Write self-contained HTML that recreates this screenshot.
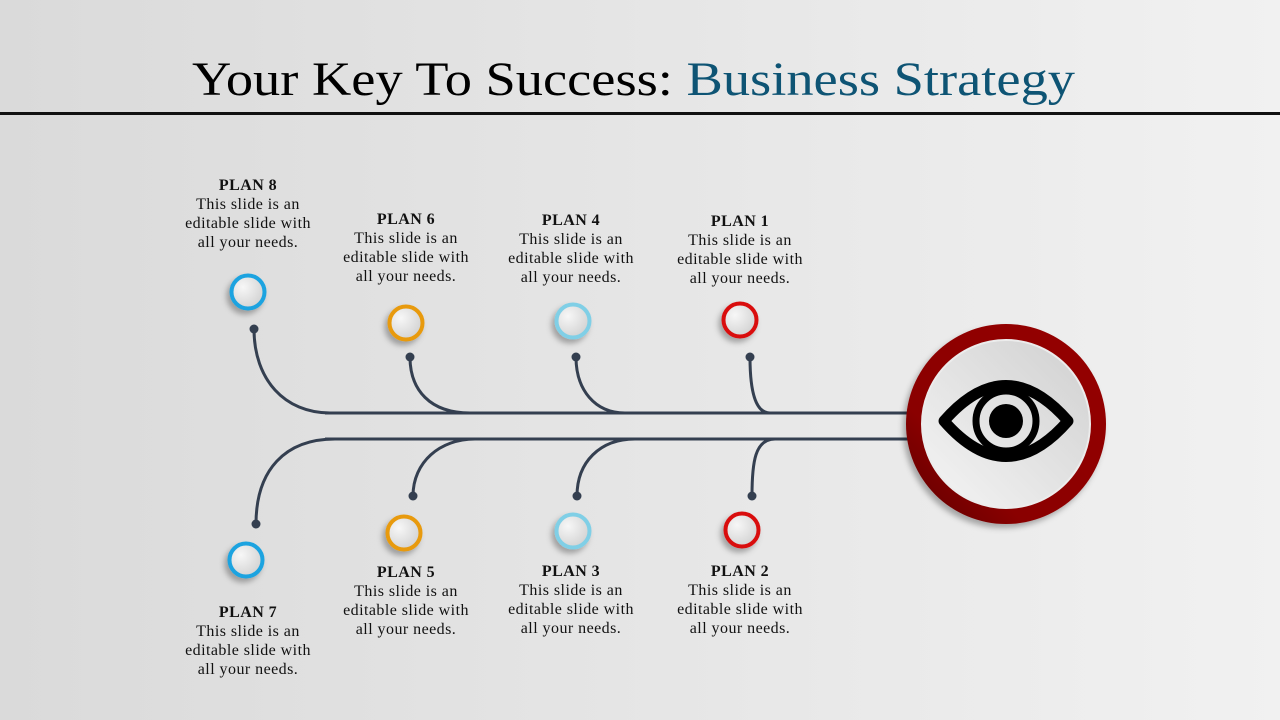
<!DOCTYPE html>
<html><head><style>
body{margin:0;width:1280px;height:720px;overflow:hidden;background:linear-gradient(90deg,#dadada,#f1f1f1);}
svg{display:block}
text{font-family:"Liberation Serif",serif;}
</style></head><body>
<svg width="1280" height="720" viewBox="0 0 1280 720">
<defs>
<radialGradient id="ig" cx="0.35" cy="0.35" r="0.7"><stop offset="0" stop-color="#f7f7f7"/><stop offset="1" stop-color="#d2d2d2"/></radialGradient>
<linearGradient id="big" x1="1" y1="0" x2="0" y2="1"><stop offset="0" stop-color="#d0d0d0"/><stop offset="1" stop-color="#f5f5f5"/></linearGradient>
<linearGradient id="red" x1="1" y1="0" x2="0" y2="1"><stop offset="0" stop-color="#960000"/><stop offset="0.7" stop-color="#8a0000"/><stop offset="1" stop-color="#5a0000"/></linearGradient>
<filter id="sh" x="-50%" y="-50%" width="200%" height="200%"><feDropShadow dx="-3" dy="4" stdDeviation="3" flood-opacity="0.3"/></filter>
</defs>
<text x="192" y="95" font-size="48" fill="#000" textLength="883" lengthAdjust="spacingAndGlyphs">Your Key To Success: <tspan fill="#0e5474">Business Strategy</tspan></text>
<rect x="0" y="112" width="1280" height="3" fill="#111"/>
<g stroke="#343f50" stroke-width="3" fill="none">
<path d="M325 413H910M325 439H910"/>
<path d="M254 329C254 380 285 413 330 413"/>
<path d="M410 357C410 390 430 413 470 413"/>
<path d="M576 357C576 390 595 413 625 413"/>
<path d="M750 357C750 390 755 413 770 413"/>
<path d="M256 524C256 470 285 439 335 439"/>
<path d="M413 496C413 462 440 439 475 439"/>
<path d="M577 496C577 462 600 439 635 439"/>
<path d="M752 496C752 462 755 439 775 439"/>
</g>
<g fill="#343f50">
<circle cx="254" cy="329" r="4.5"/><circle cx="410" cy="357" r="4.5"/><circle cx="576" cy="357" r="4.5"/><circle cx="750" cy="357" r="4.5"/>
<circle cx="256" cy="524" r="4.5"/><circle cx="413" cy="496" r="4.5"/><circle cx="577" cy="496" r="4.5"/><circle cx="752" cy="496" r="4.5"/>
</g>
<g filter="url(#sh)" stroke-width="4">
<circle cx="248" cy="292" r="16.5" fill="url(#ig)" stroke="#1aa3e0"/>
<circle cx="406" cy="323" r="16.5" fill="url(#ig)" stroke="#e89a0a"/>
<circle cx="573" cy="321" r="16.5" fill="url(#ig)" stroke="#80cfe6"/>
<circle cx="740" cy="320" r="16.5" fill="url(#ig)" stroke="#d91010"/>
<circle cx="246" cy="560" r="16.5" fill="url(#ig)" stroke="#1aa3e0"/>
<circle cx="404" cy="533" r="16.5" fill="url(#ig)" stroke="#e89a0a"/>
<circle cx="573" cy="531" r="16.5" fill="url(#ig)" stroke="#80cfe6"/>
<circle cx="742" cy="530" r="16.5" fill="url(#ig)" stroke="#d91010"/>
</g>
<circle cx="1006" cy="424" r="100" fill="url(#red)" filter="url(#sh)"/>
<circle cx="1006" cy="424" r="84" fill="url(#big)" stroke="#ececec" stroke-width="2"/>
<path d="M944 421Q1006 350 1068 421Q1006 492 944 421Z" fill="none" stroke="#000" stroke-width="11" stroke-linejoin="round"/>
<circle cx="1006" cy="421" r="30" fill="none" stroke="#000" stroke-width="7"/>
<circle cx="1006" cy="421" r="17" fill="#000"/>
<g font-size="16" letter-spacing="0.45" text-anchor="middle" fill="#111">
<text x="248" y="190"><tspan font-weight="bold">PLAN 8</tspan><tspan x="248" dy="19">This slide is an</tspan><tspan x="248" dy="19">editable slide with</tspan><tspan x="248" dy="19">all your needs.</tspan></text>
<text x="406" y="224"><tspan font-weight="bold">PLAN 6</tspan><tspan x="406" dy="19">This slide is an</tspan><tspan x="406" dy="19">editable slide with</tspan><tspan x="406" dy="19">all your needs.</tspan></text>
<text x="571" y="225"><tspan font-weight="bold">PLAN 4</tspan><tspan x="571" dy="19">This slide is an</tspan><tspan x="571" dy="19">editable slide with</tspan><tspan x="571" dy="19">all your needs.</tspan></text>
<text x="740" y="226"><tspan font-weight="bold">PLAN 1</tspan><tspan x="740" dy="19">This slide is an</tspan><tspan x="740" dy="19">editable slide with</tspan><tspan x="740" dy="19">all your needs.</tspan></text>
<text x="248" y="617"><tspan font-weight="bold">PLAN 7</tspan><tspan x="248" dy="19">This slide is an</tspan><tspan x="248" dy="19">editable slide with</tspan><tspan x="248" dy="19">all your needs.</tspan></text>
<text x="406" y="577"><tspan font-weight="bold">PLAN 5</tspan><tspan x="406" dy="19">This slide is an</tspan><tspan x="406" dy="19">editable slide with</tspan><tspan x="406" dy="19">all your needs.</tspan></text>
<text x="571" y="576"><tspan font-weight="bold">PLAN 3</tspan><tspan x="571" dy="19">This slide is an</tspan><tspan x="571" dy="19">editable slide with</tspan><tspan x="571" dy="19">all your needs.</tspan></text>
<text x="740" y="576"><tspan font-weight="bold">PLAN 2</tspan><tspan x="740" dy="19">This slide is an</tspan><tspan x="740" dy="19">editable slide with</tspan><tspan x="740" dy="19">all your needs.</tspan></text>
</g>
</svg>
</body></html>
